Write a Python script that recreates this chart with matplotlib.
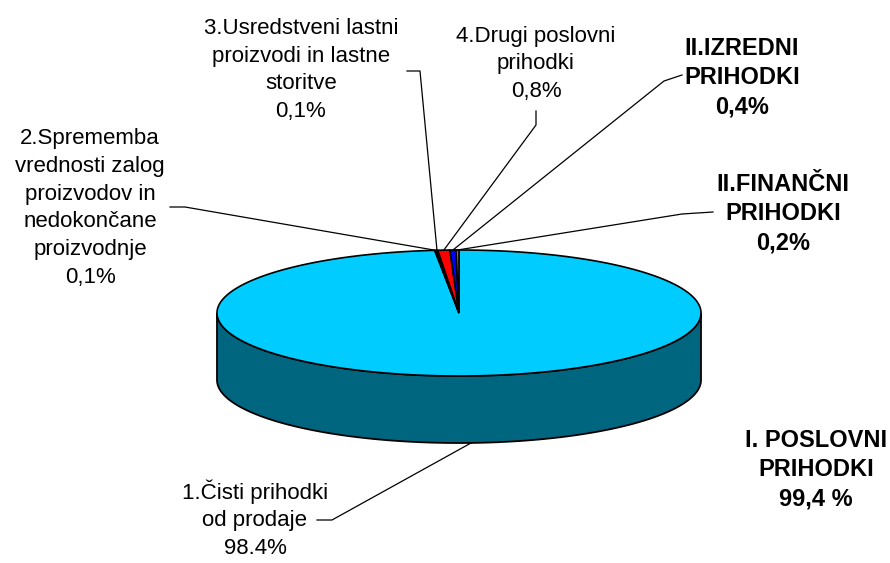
import numpy as np
import matplotlib.pyplot as plt
from matplotlib.patches import Polygon

plt.rcParams['font.family'] = ['Liberation Sans', 'DejaVu Sans']

# slices, clockwise from 12 o'clock (Excel style)
names = ['1.Čisti prihodki\nod prodaje\n98.4%',
         '2.Sprememba\nvrednosti zalog\nproizvodov in\nnedokončane\nproizvodnje\n0,1%',
         '3.Usredstveni lastni\nproizvodi in lastne\nstoritve\n0,1%',
         '4.Drugi poslovni\nprihodki\n0,8%',
         'II.IZREDNI\nPRIHODKI\n0,4%',
         'II.FINANČNI\nPRIHODKI\n0,2%']
values = [98.4, 0.1, 0.1, 0.8, 0.4, 0.2]
colors = ['#00CCFF', '#993366', '#FFFFCC', '#FF0000', '#0000FF', '#996666']
bold = [False, False, False, False, True, True]
summary = 'I. POSLOVNI\nPRIHODKI\n99,4 %'

# pie geometry in pixel coords
cx, cy, a, b, depth = 459, 313, 242, 63, 67

# label centres and leader elbows (pixel coords)
label_xy = [(255, 519), (90, 208), (301, 70), (536, 64), (742, 78), (783, 214)]
elbows = [[(317, 520), (332, 520)],
          [(170, 207), (185, 207)],
          [(407, 71), (420, 71)],
          [(536, 111), (536, 125)],
          [(682, 75), (664, 81)],
          [(713, 212), (682, 214)]]


def pt(theta, dz=0):
    return cx + a * np.cos(theta), cy - b * np.sin(theta) + dz


fig = plt.figure(figsize=(8.9, 5.63), dpi=100)
ax = fig.add_axes([0, 0, 1, 1])
ax.set_xlim(0, 890)
ax.set_ylim(563, 0)
ax.axis('off')

fr = np.array(values) / sum(values)
cum = np.concatenate([[0], np.cumsum(fr)])
t0 = np.pi / 2 - 2 * np.pi * cum[:-1]   # start angle of each slice
t1 = np.pi / 2 - 2 * np.pi * cum[1:]    # end angle

# front side (lower half of ellipse is visible)
for i in range(len(values)):
    for k in range(-2, 2):
        lo = max(t1[i], -np.pi + 2 * np.pi * k)
        hi = min(t0[i], 2 * np.pi * k)
        if hi <= lo:
            continue
        th = np.linspace(lo, hi, 200)
        top = np.column_stack(pt(th))
        bot = np.column_stack(pt(th[::-1], depth))
        rgb = [int(colors[i][j:j + 2], 16) / 255 * 0.5 for j in (1, 3, 5)]
        ax.add_patch(Polygon(np.vstack([top, bot]), closed=True,
                             facecolor=rgb, edgecolor='black', lw=1.3))

# top face
for i in range(len(values)):
    th = np.linspace(t0[i], t1[i], max(int(abs(t1[i] - t0[i]) * 100), 3))
    rim = np.column_stack(pt(th))
    poly = np.vstack([[cx, cy], rim])
    ax.add_patch(Polygon(poly, closed=True, facecolor=colors[i],
                         edgecolor='black', lw=1.2, joinstyle='miter'))

# labels with leader lines
for i in range(len(values)):
    mid = (t0[i] + t1[i]) / 2
    if np.sin(mid) < 0:
        ax_, ay_ = pt(mid, depth)
    else:
        ax_, ay_ = pt(mid)
    e = elbows[i]
    ax.plot([e[0][0], e[1][0], ax_], [e[0][1], e[1][1], ay_],
            color='black', lw=0.9)
    ax.text(*label_xy[i], names[i], ha='center', va='center',
            multialignment='center', fontsize=17 if bold[i] else 16,
            linespacing=1.35 if bold[i] else 1.42,
            fontweight='bold' if bold[i] else 'normal')

ax.text(816, 470, summary, ha='center', va='center', multialignment='center',
        fontsize=17, linespacing=1.35, fontweight='bold')

fig.savefig('out.png', dpi=100, facecolor='white')
